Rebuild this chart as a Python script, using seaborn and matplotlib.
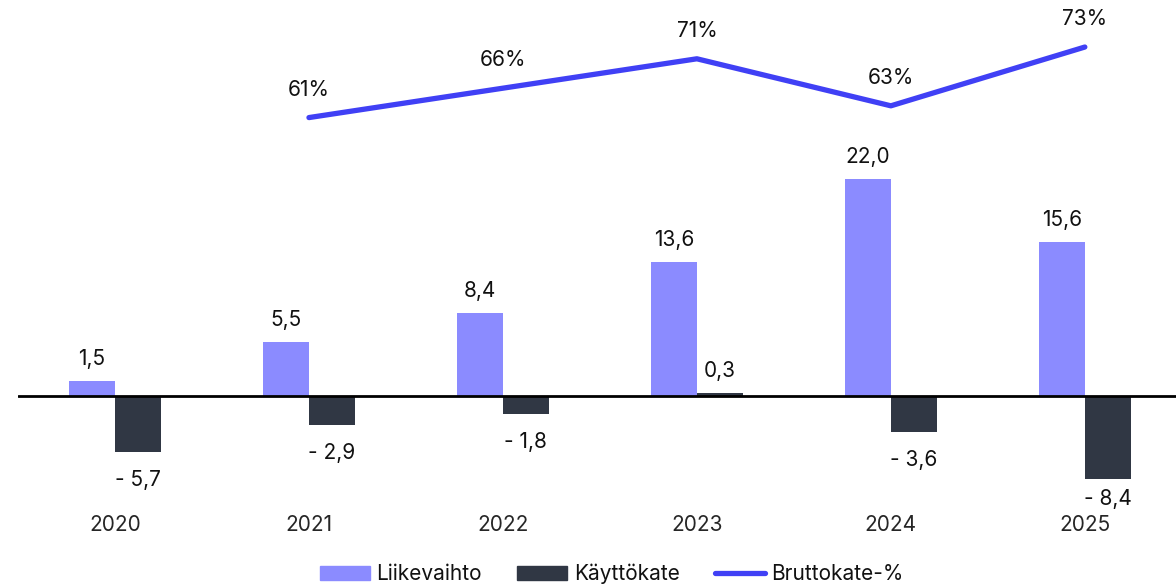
import pandas as pd
import numpy as np
import matplotlib.pyplot as plt
import seaborn as sns

# Data (MEUR ja %)
years = ['2020', '2021', '2022', '2023', '2024', '2025']
liikevaihto = [1.5, 5.5, 8.4, 13.6, 22.0, 15.6]
kayttokate = [-5.7, -2.9, -1.8, 0.3, -3.6, -8.4]
line_years = ['2021', '2022', '2023', '2024', '2025']
bruttokate = [61, 66, 71, 63, 73]

bar_colors = ['#8b8bff', '#303744']
line_color = '#4040f5'

df = pd.DataFrame({
    'Vuosi': years * 2,
    'Sarja': ['Liikevaihto'] * len(years) + ['Käyttökate'] * len(years),
    'Arvo': liikevaihto + kayttokate,
})
df_line = pd.DataFrame({
    'x': [years.index(y) for y in line_years],
    'Bruttokate': bruttokate,
})

sns.set_theme(style='white')
plt.rcParams['font.family'] = ['Inter', 'DejaVu Sans']
plt.rcParams['text.color'] = '#111111'


def fmt(v):
    s = f'{abs(v):.1f}'.replace('.', ',')
    return '- ' + s if v < 0 else s


fig = plt.figure(figsize=(11.76, 5.84), dpi=100)
ax = fig.add_axes([18 / 1176, 1 - 505 / 584, 1 - 18 / 1176, 505 / 584])

sns.barplot(data=df, x='Vuosi', y='Arvo', hue='Sarja', order=years,
            palette=bar_colors, saturation=1, width=0.474, linewidth=0,
            legend=False, ax=ax)

ax.axhline(0, color='black', linewidth=2)
ax.set_xlim(-0.5, 5.47)
ax.set_ylim(-11.05, 40.16)
ax.set_xlabel('')
ax.set_ylabel('')
ax.set_yticks([])
ax.tick_params(axis='x', length=0, pad=7, labelsize=15)
sns.despine(ax=ax, left=True, bottom=True)

# value labels on bars (negative labels kept inside the plot area)
px_per_unit = 505 / (40.16 + 11.05)
pos_off = 22 / px_per_unit
neg_off = 28 / px_per_unit
y_floor = -11.05 + 6 / px_per_unit
for cont, vals in zip(ax.containers, [liikevaihto, kayttokate]):
    for bar, v in zip(cont, vals):
        x = bar.get_x() + bar.get_width() / 2
        y = v + pos_off if v >= 0 else max(v - neg_off, y_floor)
        ax.text(x, y, fmt(v), ha='center', va='center', fontsize=15)

# Bruttokate-% on secondary axis
ax2 = ax.twinx()
sns.lineplot(data=df_line, x='x', y='Bruttokate', color=line_color,
             linewidth=3.8, ax=ax2, legend=False,
             solid_capstyle='round')
for x, v in zip(df_line['x'], bruttokate):
    ax2.annotate(f'{v}%', (x, v), textcoords='offset points', xytext=(0, 20),
                 ha='center', va='center', fontsize=15)
ax2.set_ylim(-4.9, 81.0)
ax2.set_xlim(-0.5, 5.47)
ax2.set_yticks([])
ax2.set_ylabel('')
ax2.set_xlabel('')
sns.despine(ax=ax2, left=True, bottom=True, right=True)

# Legend
handles = [
    plt.Rectangle((0, 0), 1, 1, color=bar_colors[0]),
    plt.Rectangle((0, 0), 1, 1, color=bar_colors[1]),
    plt.Line2D([0], [0], color=line_color, linewidth=3.8, solid_capstyle='round'),
]
fig.legend(handles, ['Liikevaihto', 'Käyttökate', 'Bruttokate-%'],
           loc='center', bbox_to_anchor=(612 / 1176, 1 - 574 / 584), ncol=3,
           frameon=False, fontsize=15, handlelength=2.4, handleheight=0.6,
           handletextpad=0.3, columnspacing=1.7)

plt.savefig('out.png', dpi=100)
